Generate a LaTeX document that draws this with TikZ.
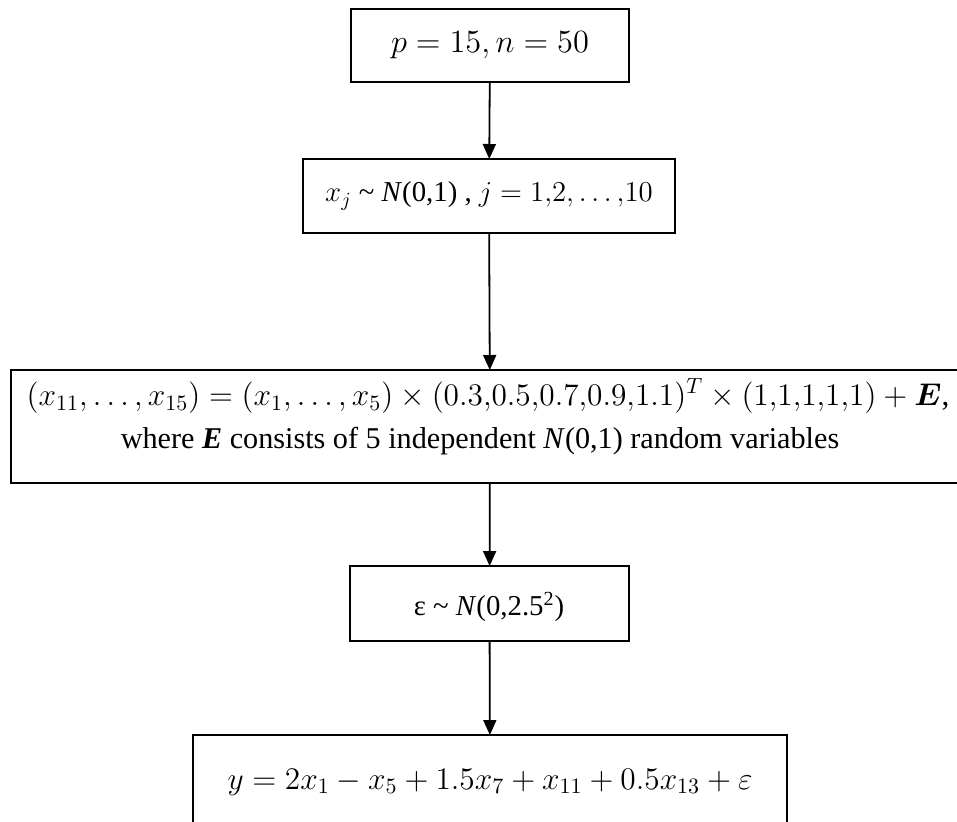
\RequirePackage{fix-cm}
\documentclass[tikz,border=0pt]{standalone}
\usepackage{amsmath}
\usepackage{bm}
\usepackage[no-math]{fontspec}
\setmainfont{Liberation Serif}
\usetikzlibrary{arrows.meta}

\tikzset{
  box/.style={draw, line width=0.9pt, rectangle, inner sep=0pt, outer sep=0pt, align=center},
  label text/.style={inner sep=0pt, outer sep=0pt},
  flow/.style={line width=0.9pt, -{Triangle[width=6.5pt,length=7.5pt]}},
  every node/.append style={font=\fontsize{14.4}{17}\selectfont},
  big math/.style={font=\fontsize{15.7}{19}\selectfont}
}

\begin{document}
\begin{tikzpicture}[x=0.5pt, y=-0.5pt]
  \useasboundingbox (0,0) rectangle (957,821);

  % step 1: sizes
  \node[box, font=\fontsize{16.2}{19}\selectfont, minimum width=139pt, minimum height=36.5pt] (b1) at (490,45.5)
    {$p = 15, n = 50$};

  % step 2: first block of predictors
  \node[box, minimum width=186pt, minimum height=37pt] (b2) at (489,196)
    {$x_j$ \textasciitilde{} \textit{N}(0,1) , $j = 1{,}2{,}\ldots{,}10$};

  % step 3: correlated predictors
  \node[box, minimum width=479pt, minimum height=56.5pt] (b3) at (490,426.5) {};
  \node[label text, big math] (b3a) at (488,396)
    {$(x_{11}, \ldots, x_{15}) = (x_1, \ldots, x_5) \times (0.3{,}0.5{,}0.7{,}0.9{,}1.1)^T \times (1{,}1{,}1{,}1{,}1) + \bm{E}$,};
  \node[label text, font=\fontsize{15.1}{18}\selectfont] (b3b) at (480,441)
    {where \textbf{\textit{E}} consists of 5 independent \textit{N}(0,1) random variables};

  % step 4: noise
  \node[box, minimum width=139.5pt, minimum height=37.5pt] (b4) at (489.5,603.5) {};
  \node[label text] (b4t) at (489,607)
    {ε \textasciitilde{} \textit{N}(0,2.5\textsuperscript{2})};

  % step 5: response
  \node[box, big math, minimum width=297pt, minimum height=47pt] (b5) at (490,782)
    {$y = 2x_1 - x_5 + 1.5x_7 + x_{11} + 0.5x_{13} + \varepsilon$};

  % connectors
  \draw[flow] (b1) -- (b2);
  \draw[flow] (b2) -- (b3);
  \draw[flow] (b3) -- (b4);
  \draw[flow] (b4) -- (b5);
\end{tikzpicture}
\end{document}
